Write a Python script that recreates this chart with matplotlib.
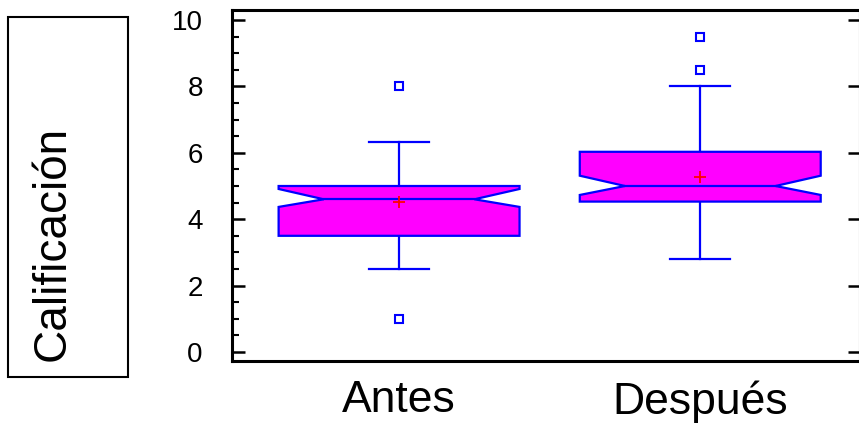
import matplotlib
matplotlib.use("Agg")
import matplotlib.pyplot as plt
from matplotlib.patches import Polygon, Rectangle

plt.rcParams['font.family'] = ['Liberation Sans', 'DejaVu Sans']

# Box-plot summary statistics per group
categories = ["Antes", "Después"]
q1 = [3.5, 4.53]
q3 = [5.0, 6.03]
medians = [4.6, 5.0]
notch_lo = [4.37, 4.73]
notch_hi = [4.91, 5.31]
whisker_lo = [2.5, 2.8]
whisker_hi = [6.33, 8.0]
means = [4.53, 5.28]
outliers = [[1.0, 8.0], [8.5, 9.5]]
yticks = [0, 2, 4, 6, 8, 10]

BOX_FILL = "#ff00ff"
EDGE = "#0000ff"

fig = plt.figure(figsize=(8.59, 4.24), dpi=100)
ax = fig.add_axes([0.270, 0.1486, 0.731, 0.8278])

half_w = 0.40     # half box width
waist = 0.25      # half width at the notch waist
cap = 0.10        # half whisker-cap width

for i, name in enumerate(categories):
    x = i + 1
    l, r = x - half_w, x + half_w
    verts = [
        (l, q1[i]), (r, q1[i]), (r, notch_lo[i]), (x + waist, medians[i]),
        (r, notch_hi[i]), (r, q3[i]), (l, q3[i]), (l, notch_hi[i]),
        (x - waist, medians[i]), (l, notch_lo[i]),
    ]
    ax.add_patch(Polygon(verts, closed=True, facecolor=BOX_FILL,
                         edgecolor=EDGE, linewidth=1.6, zorder=2))
    # median line across the notch waist
    ax.plot([x - waist, x + waist], [medians[i], medians[i]],
            color=EDGE, lw=1.6, zorder=3)
    # whiskers and caps
    ax.plot([x, x], [whisker_lo[i], q1[i]], color=EDGE, lw=1.6, zorder=1)
    ax.plot([x, x], [q3[i], whisker_hi[i]], color=EDGE, lw=1.6, zorder=1)
    ax.plot([x - cap, x + cap], [whisker_lo[i]] * 2, color=EDGE, lw=1.6)
    ax.plot([x - cap, x + cap], [whisker_hi[i]] * 2, color=EDGE, lw=1.6)
    # outliers
    ax.plot([x] * len(outliers[i]), outliers[i], linestyle="none", marker="s",
            markersize=6, markerfacecolor="white", markeredgecolor=EDGE,
            markeredgewidth=1.5, zorder=4)
    # mean
    ax.plot([x], [means[i]], marker="+", color="red", markersize=9,
            markeredgewidth=1.3, zorder=5)

ax.set_xlim(0.445, 2.53)
ax.set_ylim(-0.27, 10.3)

ax.set_yticks(yticks)
ax.set_yticks([v + 0.5 for v in range(0, 10)] + list(range(1, 10, 2)),
              minor=True)
ax.set_yticklabels([str(t) for t in yticks], fontsize=20)
ax.tick_params(axis="y", which="major", direction="in", length=9, width=1.8,
               pad=21, right=True, labelright=False)
ax.tick_params(axis="y", which="minor", direction="in", length=5, width=1.5,
               right=False)
ax.set_xticks([1, 2])
ax.set_xticklabels(categories, fontsize=32)
ax.tick_params(axis="x", length=0, pad=14)

for side in ("left", "bottom", "top", "right"):
    ax.spines[side].set_linewidth(2.2)

# Framed y-axis title
fig.patches.append(Rectangle((8 / 859, 1 - 377 / 424), 120 / 859, 360 / 424,
                             transform=fig.transFigure, fill=False,
                             edgecolor="black", linewidth=1.5))
fig.text(53 / 859, 1 - 243 / 424, "Calificación", rotation=90,
         fontsize=33, ha="center", va="center")

fig.savefig("out.png", dpi=100)
